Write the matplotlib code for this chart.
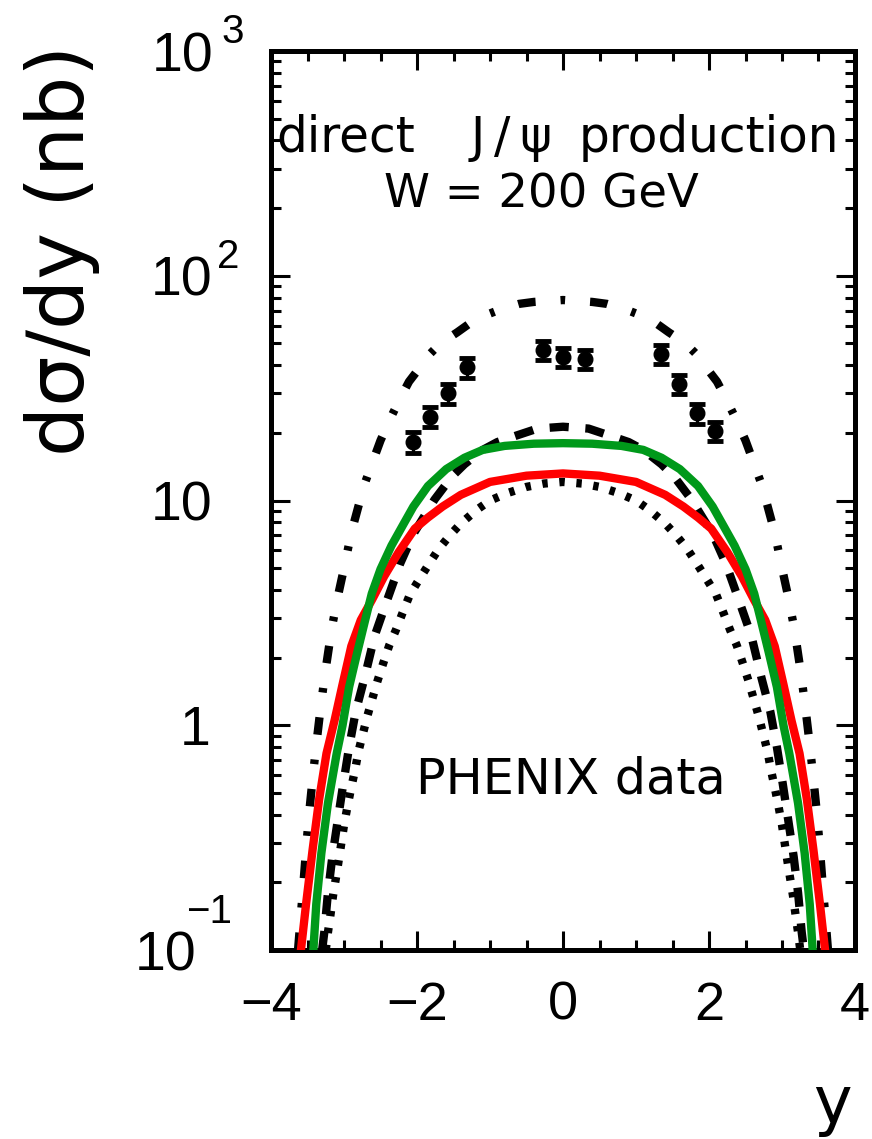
import matplotlib
matplotlib.use("Agg")
import matplotlib.pyplot as plt
from matplotlib.ticker import MultipleLocator, LogLocator, NullFormatter
from matplotlib.transforms import offset_copy

# PHENIX direct J/psi points, W = 200 GeV
phenix_y = [-2.06, -1.82, -1.57, -1.32, -0.28, 0.00, 0.30, 1.34, 1.59, 1.84, 2.08]
phenix_val = [18.2, 23.6, 30.0, 39.1, 46.7, 43.4, 42.6, 44.9, 33.0, 24.4, 20.4]
phenix_err = [1.9, 2.4, 3.0, 3.9, 4.7, 4.3, 4.3, 4.5, 3.3, 2.4, 2.0]

# model curves (rapidity, dsigma/dy in nb)
dashdot_y = [-3.63, -3.59, -3.56, -3.52, -3.48, -3.43, -3.38, -3.32, -3.26, -3.20, -3.15,
             -3.08, -3.00, -2.90, -2.80, -2.72, -2.62, -2.50, -2.37, -2.23, -2.11, -1.99,
             -1.82, -1.68, -1.45, -1.29, -1.05, -0.85, -0.60, -0.40, 0.00, 0.40, 0.60,
             0.85, 1.05, 1.29, 1.45, 1.68, 1.82, 1.99, 2.11, 2.23, 2.37, 2.50, 2.62, 2.72,
             2.80, 2.90, 3.00, 3.08, 3.15, 3.20, 3.26, 3.32, 3.38, 3.43, 3.48, 3.52, 3.56,
             3.59, 3.63]
dashdot_v = [0.10, 0.145, 0.19, 0.28, 0.40, 0.58, 0.82, 1.2, 1.7, 2.3, 2.9, 3.8, 5.0, 7.2,
             9.5, 11.8, 14.5, 18.5, 23.0, 28.5, 33.8, 38.0, 45.0, 50.0, 56.0, 61.0, 67.0,
             71.0, 75.0, 76.5, 78.0, 76.5, 75.0, 71.0, 67.0, 61.0, 56.0, 50.0, 45.0, 38.0,
             33.8, 28.5, 23.0, 18.5, 14.5, 11.8, 9.5, 7.2, 5.0, 3.8, 2.9, 2.3, 1.7, 1.2,
             0.82, 0.58, 0.40, 0.28, 0.19, 0.145, 0.10]

dashed_y = [-3.30, -3.27, -3.22, -3.16, -3.09, -3.01, -2.93, -2.84, -2.72, -2.58, -2.41,
            -2.23, -2.05, -1.76, -1.52, -1.35, -1.10, -0.90, -0.65, -0.35, 0.00, 0.35,
            0.65, 0.90, 1.10, 1.35, 1.52, 1.76, 2.05, 2.23, 2.41, 2.58, 2.72, 2.84, 2.93,
            3.01, 3.09, 3.16, 3.22, 3.27, 3.30]
dashed_v = [0.10, 0.12, 0.18, 0.26, 0.37, 0.55, 0.80, 1.15, 1.62, 2.5, 3.6, 5.25, 7.1,
            10.1, 12.8, 14.5, 16.8, 18.2, 19.4, 20.9, 21.3, 20.9, 19.4, 18.2, 16.8, 14.5,
            12.8, 10.1, 7.1, 5.25, 3.6, 2.5, 1.62, 1.15, 0.80, 0.55, 0.37, 0.26, 0.18,
            0.12, 0.10]

dotted_y = [-3.25, -3.22, -3.19, -3.15, -3.10, -3.05, -3.00, -2.95, -2.90, -2.85, -2.80,
            -2.74, -2.68, -2.61, -2.54, -2.46, -2.38, -2.29, -2.20, -2.10, -2.00, -1.84,
            -1.70, -1.55, -1.40, -1.18, -1.00, -0.76, -0.50, -0.26, 0.00, 0.26, 0.50,
            0.76, 1.00, 1.18, 1.40, 1.55, 1.70, 1.84, 2.00, 2.10, 2.20, 2.29, 2.38, 2.46,
            2.54, 2.61, 2.68, 2.74, 2.80, 2.85, 2.90, 2.95, 3.00, 3.05, 3.10, 3.15, 3.19,
            3.22, 3.25]
dotted_v = [0.10, 0.12, 0.14, 0.175, 0.22, 0.28, 0.36, 0.44, 0.53, 0.63, 0.77, 0.92, 1.1,
            1.32, 1.58, 1.9, 2.27, 2.65, 3.15, 3.8, 4.3, 5.2, 6.1, 7.0, 7.9, 9.1, 10.0,
            10.8, 11.5, 11.9, 12.1, 11.9, 11.5, 10.8, 10.0, 9.1, 7.9, 7.0, 6.1, 5.2, 4.3,
            3.8, 3.15, 2.65, 2.27, 1.9, 1.58, 1.32, 1.1, 0.92, 0.77, 0.63, 0.53, 0.44,
            0.36, 0.28, 0.22, 0.175, 0.14, 0.12, 0.10]

red_y = [-3.59, -3.52, -3.43, -3.34, -3.24, -3.13, -3.02, -2.90, -2.77, -2.62, -2.45, -2.25,
         -2.03, -1.85, -1.65, -1.40, -1.00, -0.50, 0.00, 0.50, 1.00, 1.40, 1.65, 1.85, 2.03,
         2.25, 2.45, 2.62, 2.77, 2.90, 3.02, 3.13, 3.24, 3.34, 3.43, 3.52, 3.59]
red_v = [0.10, 0.16, 0.28, 0.47, 0.75, 1.05, 1.52, 2.25, 2.94, 3.6, 4.6, 5.9, 7.5, 8.4, 9.4,
         10.6, 12.1, 12.9, 13.2, 12.9, 12.1, 10.6, 9.4, 8.4, 7.5, 5.9, 4.6, 3.6, 2.94, 2.25,
         1.52, 1.05, 0.75, 0.47, 0.28, 0.16, 0.10]

green_y = [-3.42, -3.38, -3.31, -3.22, -3.10, -3.02, -2.93, -2.82, -2.71, -2.62, -2.50,
           -2.35, -2.20, -2.05, -1.85, -1.60, -1.35, -1.10, -0.80, -0.40, 0.00, 0.40, 0.80,
           1.10, 1.35, 1.60, 1.85, 2.05, 2.20, 2.35, 2.50, 2.62, 2.71, 2.82, 2.93, 3.02,
           3.10, 3.22, 3.31, 3.38, 3.42]
green_v = [0.10, 0.16, 0.27, 0.45, 0.75, 1.0, 1.48, 2.1, 2.94, 3.85, 4.95, 6.3, 7.7, 9.4,
           11.6, 13.8, 15.5, 16.8, 17.5, 17.9, 18.0, 17.9, 17.5, 16.8, 15.5, 13.8, 11.6,
           9.4, 7.7, 6.3, 4.95, 3.85, 2.94, 2.1, 1.48, 1.0, 0.75, 0.45, 0.27, 0.16, 0.10]

# decade labels on the left: value, mantissa, exponent
ytick_vals = [1000, 100, 10, 1, 0.1]
ytick_base = ["10", "10", "10", "1", "10"]
ytick_exp = ["3", "2", "", "", "\u22121"]

fig = plt.figure(figsize=(8.72, 11.39), dpi=100)
ax = fig.add_axes([0.3108, 0.1659, 0.6697, 0.7893])

lw = 6.0
ax.plot(dashdot_y, dashdot_v, color="black", lw=lw, dashes=(2.1, 3.0, 0.55, 3.0),
        dash_capstyle="butt", zorder=2)
ax.plot(dashed_y, dashed_v, color="black", lw=lw, dashes=(2.3, 2.0),
        dash_capstyle="butt", zorder=2)
ax.plot(dotted_y, dotted_v, color="black", lw=lw, dashes=(0.65, 1.4),
        dash_capstyle="butt", zorder=2)
ax.plot(red_y, red_v, color="#ff0000", lw=6.0, solid_joinstyle="round", zorder=3)
ax.plot(green_y, green_v, color="#00991a", lw=6.0, solid_joinstyle="round", zorder=4)

ax.errorbar(phenix_y, phenix_val, yerr=phenix_err, fmt="o", color="black",
            markersize=10.5, elinewidth=2.2, capsize=6, capthick=3.5, zorder=5)

ax.set_yscale("log")
ax.set_xlim(-4, 4)
ax.set_ylim(0.1, 1000)

for side in ax.spines.values():
    side.set_linewidth(3.6)

ax.xaxis.set_major_locator(MultipleLocator(2))
ax.xaxis.set_minor_locator(MultipleLocator(0.5))
ax.yaxis.set_major_locator(LogLocator(base=10, numticks=10))
ax.yaxis.set_minor_locator(LogLocator(base=10, subs=range(2, 10), numticks=50))
ax.yaxis.set_minor_formatter(NullFormatter())

ax.tick_params(which="both", direction="in", top=True, right=True, width=2.2)
ax.tick_params(which="major", length=14)
ax.tick_params(which="minor", length=7)
ax.tick_params(axis="y", which="both", labelleft=False)
ax.tick_params(axis="x", which="major", pad=22, labelsize=39)
for lab in ax.get_xticklabels():
    lab.set_family("Liberation Sans")

# decade labels written as mantissa plus raised exponent
ytrans = ax.get_yaxis_transform()
base_dx = [-58, -59, -59, -60, -75]
exp_dx = [-50, -54, 0, 0, -85]
exp_dy = [8, 8, 0, 0, 27]
for val, base, ex, bdx, edx, edy in zip(ytick_vals, ytick_base, ytick_exp,
                                        base_dx, exp_dx, exp_dy):
    tb = offset_copy(ytrans, fig=fig, x=bdx, y=-20, units="dots")
    ax.text(0, val, base, transform=tb, ha="right", va="baseline",
            fontsize=40, family="Liberation Sans")
    if ex:
        te = offset_copy(ytrans, fig=fig, x=edx, y=edy, units="dots")
        ax.text(0, val, ex, transform=te, ha="left", va="baseline",
                fontsize=29, family="Liberation Sans")

fig.text(62 / 872, 1 - 250 / 1139, "d\u03c3/dy (nb)", rotation=90, ha="center",
         va="center", fontsize=57, family="DejaVu Sans")
fig.text(852 / 872, 1 - 1123 / 1139, "y", ha="right", va="baseline",
         fontsize=47, family="DejaVu Sans")

ax.text(0.0086, 0.8877, "direct", transform=ax.transAxes, fontsize=35,
        family="DejaVu Sans", va="baseline", ha="left")
ax.text(0.4127, 0.8877, "J\u2009/\u2009\u03c8", transform=ax.transAxes, fontsize=35,
        family="DejaVu Sans", va="baseline", ha="center")
ax.text(0.527, 0.8877, "production", transform=ax.transAxes, fontsize=35,
        family="DejaVu Sans", va="baseline", ha="left")
ax.text(0.1935, 0.8254, "W = 200 GeV", transform=ax.transAxes, fontsize=33.5,
        family="DejaVu Sans", va="baseline", ha="left")
ax.text(0.2483, 0.1746, "PHENIX data", transform=ax.transAxes, fontsize=35.5,
        family="DejaVu Sans", va="baseline", ha="left")

fig.savefig("out.png", dpi=100)
